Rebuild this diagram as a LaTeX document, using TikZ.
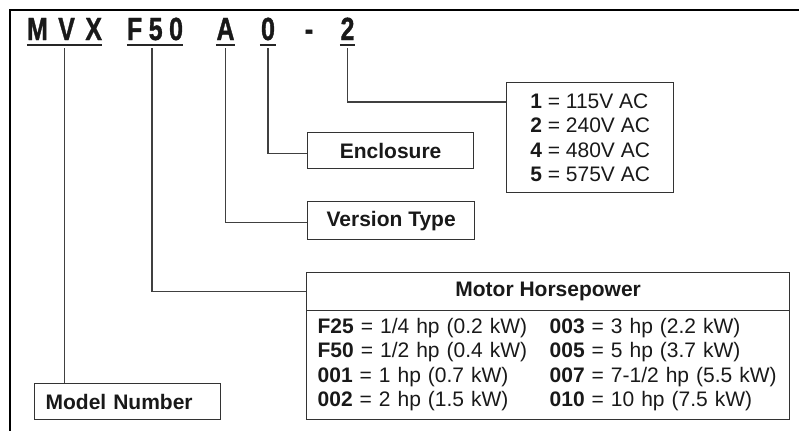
\documentclass[tikz,border=0pt]{standalone}
\usepackage{fontspec}
\setmainfont{Liberation Sans}
\newfontfamily\codefont[FakeBold=1.3]{Liberation Sans Bold}
\usepackage{graphicx}
\newcommand\cx[1]{\scalebox{0.78}[1]{#1}}
\tikzset{
  box/.style={draw=black!80, line width=1.3pt, inner sep=0pt, anchor=north west, text=black!90},
  conn/.style={draw=black!75, line width=1.2pt},
  lbl/.style={font=\fontsize{21}{24.5}\selectfont\bfseries},
  txt/.style={font=\fontsize{21}{24.5}\selectfont},
  code/.style={font=\codefont\fontsize{32}{32}\selectfont, inner sep=0pt, anchor=base, text=black!90},
  uline/.style={line width=2.6pt, draw=black!85},
}
\begin{document}
\begin{tikzpicture}[x=1pt,y=-1pt]
\useasboundingbox (0,0) rectangle (799,431);
\draw[line width=2.5pt] (799,10) -- (10,10) -- (10,431);

% code characters
\node[code] (mvx) at (64.5,40) {\makebox[75pt][s]{\cx{M}\hfill\cx{V}\hfill\cx{X}}};
\node[code] (f50) at (155,40) {\makebox[56pt][s]{\cx{F}\hfill\cx{5}\hfill\cx{0}}};
\node[code] (va) at (225.5,40) {\makebox[19pt]{\cx{A}}};
\node[code] (enc0) at (268,40) {\makebox[16pt]{\cx{0}}};
\node[code] (dash) at (309,40) {\cx{-}};
\node[code] (volt2) at (347.5,40) {\makebox[15pt]{\cx{2}}};
\foreach \n in {mvx,f50,va,enc0,volt2}
  \draw[uline] ([yshift=-5pt]\n.base west) -- ([yshift=-5pt]\n.base east);

% boxes
\node[box, txt, minimum width=167pt, minimum height=110pt, align=left] (volt) at (506,82)
  {\textbf{1} = 115V AC\\\textbf{2} = 240V AC\\\textbf{4} = 480V AC\\\textbf{5} = 575V AC};
\node[box, lbl, minimum width=166pt, minimum height=36pt] (enc) at (307,132) {Enclosure};
\node[box, lbl, minimum width=167pt, minimum height=38pt] (ver) at (307,201) {Version Type};
\node[box, lbl, minimum width=483pt, minimum height=38pt] (hpt) at (306,272) {Motor Horsepower};
\node[box, txt, text width=483pt, minimum height=109pt, align=left] (hpb) at (306,310)
  {\begin{tabular}{@{\hspace{11pt}}p{232pt}@{}l@{}}
   \textbf{F25} = 1/4 hp (0.2 kW) & \textbf{003} = 3 hp (2.2 kW)\\
   \textbf{F50} = 1/2 hp (0.4 kW) & \textbf{005} = 5 hp (3.7 kW)\\
   \textbf{001} = 1 hp (0.7 kW) & \textbf{007} = 7-1/2 hp (5.5 kW)\\
   \textbf{002} = 2 hp (1.5 kW) & \textbf{010} = 10 hp (7.5 kW)
   \end{tabular}};
\node[box, lbl, text width=186pt, minimum height=36pt, align=left] (model) at (34,383)
  {\hspace*{11pt}Model Number};

% connectors
\draw[conn] ([yshift=-8pt]mvx.base) -- (model.north -| mvx.base);
\draw[conn] ([xshift=-3pt,yshift=-8pt]f50.base) |- (hpt.west);
\draw[conn] ([yshift=-8pt]va.base) |- ([yshift=-2pt]ver.west);
\draw[conn] ([yshift=-8pt]enc0.base) |- ([yshift=-3pt]enc.west);
\draw[conn] ([yshift=-8pt]volt2.base) |- ([yshift=-20pt]volt.north west);
\end{tikzpicture}
\end{document}
